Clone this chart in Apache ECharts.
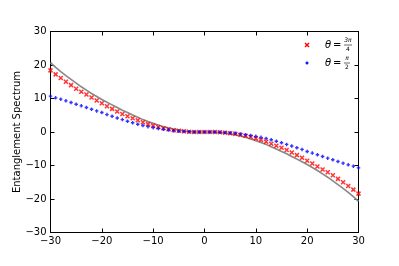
<!DOCTYPE html>
<html>
<head>
<meta charset="utf-8">
<script src="https://cdn.jsdelivr.net/npm/echarts@6/dist/echarts.min.js"></script>
<style>html,body{margin:0;padding:0;background:#fff;}#c{width:399px;height:266px;}</style>
</head>
<body>
<div id="c"></div>
<script>
var xs = [-30,-29,-28,-27,-26,-25,-24,-23,-22,-21,-20,-19,-18,-17,-16,-15,-14,-13,-12,-11,-10,-9,-8,-7,-6,-5,-4,-3,-2,-1,0,1,2,3,4,5,6,7,8,9,10,11,12,13,14,15,16,17,18,19,20,21,22,23,24,25,26,27,28,29,30];
var exactLine = [20.7,19.3,18.0,16.8,15.7,14.6,13.5,12.5,11.5,10.6,9.7,8.9,8.1,7.3,6.5,5.8,5.1,4.4,3.7,3.1,2.6,2.1,1.6,1.2,0.85,0.55,0.3,0.15,0.05,0,0,0,-0.05,-0.15,-0.3,-0.55,-0.85,-1.2,-1.6,-2.1,-2.6,-3.1,-3.7,-4.4,-5.1,-5.8,-6.5,-7.3,-8.1,-8.9,-9.7,-10.6,-11.5,-12.5,-13.5,-14.6,-15.7,-16.8,-18.0,-19.3,-20.7];
var theta3pi4 = [18.4,17.2,16.1,15.0,14.0,12.9,12.0,11.2,10.3,9.4,8.6,7.7,6.9,6.1,5.4,4.7,4.1,3.5,2.9,2.35,1.9,1.5,1.1,0.8,0.55,0.35,0.2,0.08,0.02,0,0,0,-0.02,-0.08,-0.2,-0.35,-0.55,-0.8,-1.1,-1.5,-1.9,-2.35,-2.9,-3.5,-4.1,-4.7,-5.4,-6.1,-6.9,-7.7,-8.6,-9.4,-10.3,-11.2,-12.0,-12.9,-14.0,-15.0,-16.1,-17.2,-18.4];
var thetaPi2 = [10.7,10.2,9.8,9.3,8.8,8.3,7.8,7.3,6.8,6.3,5.8,5.2,4.7,4.2,3.7,3.2,2.75,2.3,1.95,1.6,1.3,1.05,0.8,0.58,0.4,0.25,0.13,0.06,0.02,0,0,0,-0.02,-0.06,-0.13,-0.25,-0.4,-0.58,-0.8,-1.05,-1.3,-1.6,-1.95,-2.3,-2.75,-3.2,-3.7,-4.2,-4.7,-5.2,-5.8,-6.3,-6.8,-7.3,-7.8,-8.3,-8.8,-9.3,-9.8,-10.2,-10.7];
var xTicks = [-30,-20,-10,0,10,20,30];
var yTicks = [-30,-20,-10,0,10,20,30];
var yLabel = 'Entanglement Spectrum';

function pairs(ys){ return xs.map(function(x,i){ return [x, ys[i]]; }); }
function fmt(v){ return String(v).replace('-', '\u2212'); }
var font = 'DejaVu Sans';
var crossPath = 'path://M0,0L10,10M10,0L0,10';
var plusPath = 'path://M5,0L5,10M0,5L10,5';
var axCommon = {
  min: -30, max: 30, interval: 10,
  axisLine: {show: true, onZero: false, lineStyle: {color: '#000', width: 1}},
  axisTick: {show: true, inside: true, length: 4, lineStyle: {color: '#000', width: 1}},
  splitLine: {show: false}
};
function ax(extra){ return Object.assign({}, JSON.parse(JSON.stringify(axCommon)), extra); }
function seg(x1,y1,x2,y2,c){ return {type: 'line', shape: {x1:x1,y1:y1,x2:x2,y2:y2}, style: {stroke: c, lineWidth: 1.4}}; }

var chart = echarts.init(document.getElementById('c'), null, {renderer: 'canvas'});
chart.setOption({
  animation: false,
  backgroundColor: '#fff',
  grid: {left: 50.5, right: 40.5, top: 31.5, bottom: 33.5, containLabel: false},
  xAxis: [
    ax({type: 'value', position: 'bottom', axisLabel: {show: true, formatter: fmt, color: '#000', fontFamily: font, fontSize: 10, margin: 4}}),
    ax({type: 'value', position: 'top', axisLabel: {show: false}})
  ],
  yAxis: [
    ax({type: 'value', position: 'left', name: yLabel, nameLocation: 'middle', nameGap: 28, nameRotate: 90,
        nameMoveOverlap: false,
        nameTextStyle: {color: '#000', fontFamily: font, fontSize: 10},
        axisLabel: {show: true, formatter: fmt, color: '#000', fontFamily: font, fontSize: 10, margin: 4}}),
    ax({type: 'value', position: 'right', axisLabel: {show: false}})
  ],
  series: [
    {type: 'line', data: pairs(exactLine), showSymbol: false, symbol: 'none', z: 1,
     lineStyle: {color: '#888888', width: 1.6}},
    {type: 'scatter', data: pairs(theta3pi4), symbol: crossPath, symbolSize: 4, z: 3,
     itemStyle: {color: 'rgba(255,0,0,0.35)', borderColor: '#ff0000', borderWidth: 1.5}},
    {type: 'scatter', data: pairs(thetaPi2), symbol: plusPath, symbolSize: 3.5, z: 4,
     itemStyle: {color: 'rgba(0,0,255,0.3)', borderColor: '#0000ff', borderWidth: 1.4}}
  ],
  graphic: [
    seg(305,43,309,47,'#ff0000'),
    seg(309,43,305,47,'#ff0000'),
    {type: 'text', x: 325, y: 45, style: {text: '\u03b8', font: 'italic 10px DejaVu Sans', fill: '#000', verticalAlign: 'middle'}},
    {type: 'text', x: 333, y: 45, style: {text: '=', font: '10px DejaVu Sans', fill: '#000', verticalAlign: 'middle'}},
    {type: 'text', x: 348, y: 40.5, style: {text: '3\u03c0', font: 'italic 6px DejaVu Sans', fill: '#000', align: 'center', verticalAlign: 'middle'}},
    {type: 'line', shape: {x1: 344, y1: 45, x2: 352, y2: 45}, style: {stroke: '#000', lineWidth: 0.6}},
    {type: 'text', x: 348, y: 49.5, style: {text: '4', font: '6px DejaVu Sans', fill: '#000', align: 'center', verticalAlign: 'middle'}},
    seg(307,61.5,307,64.5,'#0000ff'),
    seg(305.5,63,308.5,63,'#0000ff'),
    {type: 'text', x: 325, y: 63, style: {text: '\u03b8', font: 'italic 10px DejaVu Sans', fill: '#000', verticalAlign: 'middle'}},
    {type: 'text', x: 333, y: 63, style: {text: '=', font: '10px DejaVu Sans', fill: '#000', verticalAlign: 'middle'}},
    {type: 'text', x: 347, y: 58.5, style: {text: '\u03c0', font: 'italic 6px DejaVu Sans', fill: '#000', align: 'center', verticalAlign: 'middle'}},
    {type: 'line', shape: {x1: 344, y1: 63, x2: 350, y2: 63}, style: {stroke: '#000', lineWidth: 0.6}},
    {type: 'text', x: 347, y: 67.5, style: {text: '2', font: '6px DejaVu Sans', fill: '#000', align: 'center', verticalAlign: 'middle'}}
  ]
});
</script>
</body>
</html>
